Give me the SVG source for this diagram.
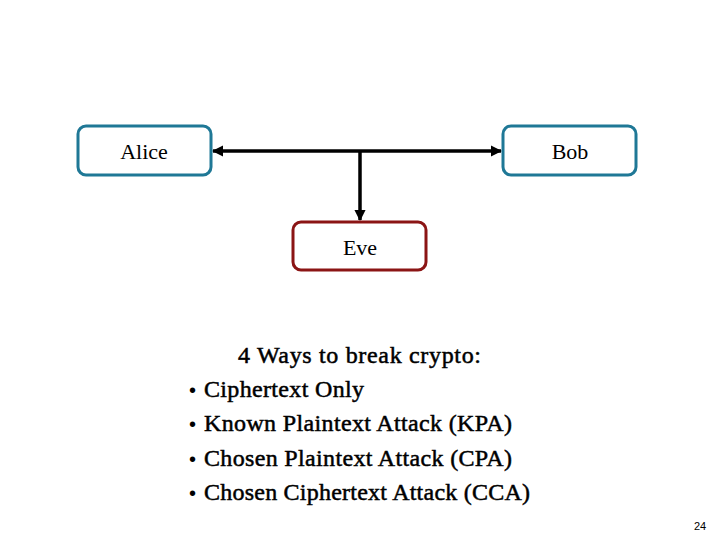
<svg xmlns="http://www.w3.org/2000/svg" width="720" height="540" viewBox="0 0 720 540">
<style>
.t{font-family:"Liberation Serif","DejaVu Serif",serif;font-size:22px;fill:#000}
.l{font-family:"Liberation Serif","DejaVu Serif",serif;font-size:24px;fill:#000;stroke:#000;stroke-width:0.5}
.b{font-family:"Liberation Sans",sans-serif;font-size:20px;fill:#000}
.blue{fill:#fff;stroke:#1f7896;stroke-width:3}
.red{fill:#fff;stroke:#8b1515;stroke-width:3}
.c{stroke:#000;stroke-width:3.5;fill:none}
</style>
<defs>
<marker id="ah" viewBox="0 0 10 10" refX="9" refY="5" markerWidth="3.2" markerHeight="3.2" orient="auto-start-reverse" markerUnits="strokeWidth">
<path d="M0,0 L10,5 L0,10 z" fill="#000"/>
</marker>
</defs>
<rect width="720" height="540" fill="#fff"/>
<g id="connectors">
<line class="c" x1="213" y1="151" x2="501" y2="151" marker-start="url(#ah)" marker-end="url(#ah)"/>
<line class="c" x1="360" y1="151" x2="360" y2="220" marker-end="url(#ah)"/>
</g>
<g id="alice">
<rect class="blue" x="78" y="126" width="133" height="49" rx="8"/>
<text class="t" x="144" y="159" text-anchor="middle">Alice</text>
</g>
<g id="bob">
<rect class="blue" x="503" y="126" width="133" height="49" rx="8"/>
<text class="t" x="570" y="159" text-anchor="middle">Bob</text>
</g>
<g id="eve">
<rect class="red" x="293" y="222" width="133" height="48" rx="8"/>
<text class="t" x="360" y="255" text-anchor="middle">Eve</text>
</g>
<g id="list">
<text class="l" x="238" y="363" textLength="243">4 Ways to break crypto:</text>
<text class="b" x="189" y="397">•</text><text class="l" x="204" y="397" textLength="160">Ciphertext Only</text>
<text class="b" x="189" y="431">•</text><text class="l" x="204" y="431" textLength="308">Known Plaintext Attack (KPA)</text>
<text class="b" x="189" y="466">•</text><text class="l" x="204" y="466" textLength="308">Chosen Plaintext Attack (CPA)</text>
<text class="b" x="189" y="500">•</text><text class="l" x="204" y="500" textLength="326">Chosen Ciphertext Attack (CCA)</text>
</g>
<text x="700" y="530" text-anchor="middle" style="font-family:'Liberation Sans',sans-serif;font-size:11px">24</text>
</svg>
